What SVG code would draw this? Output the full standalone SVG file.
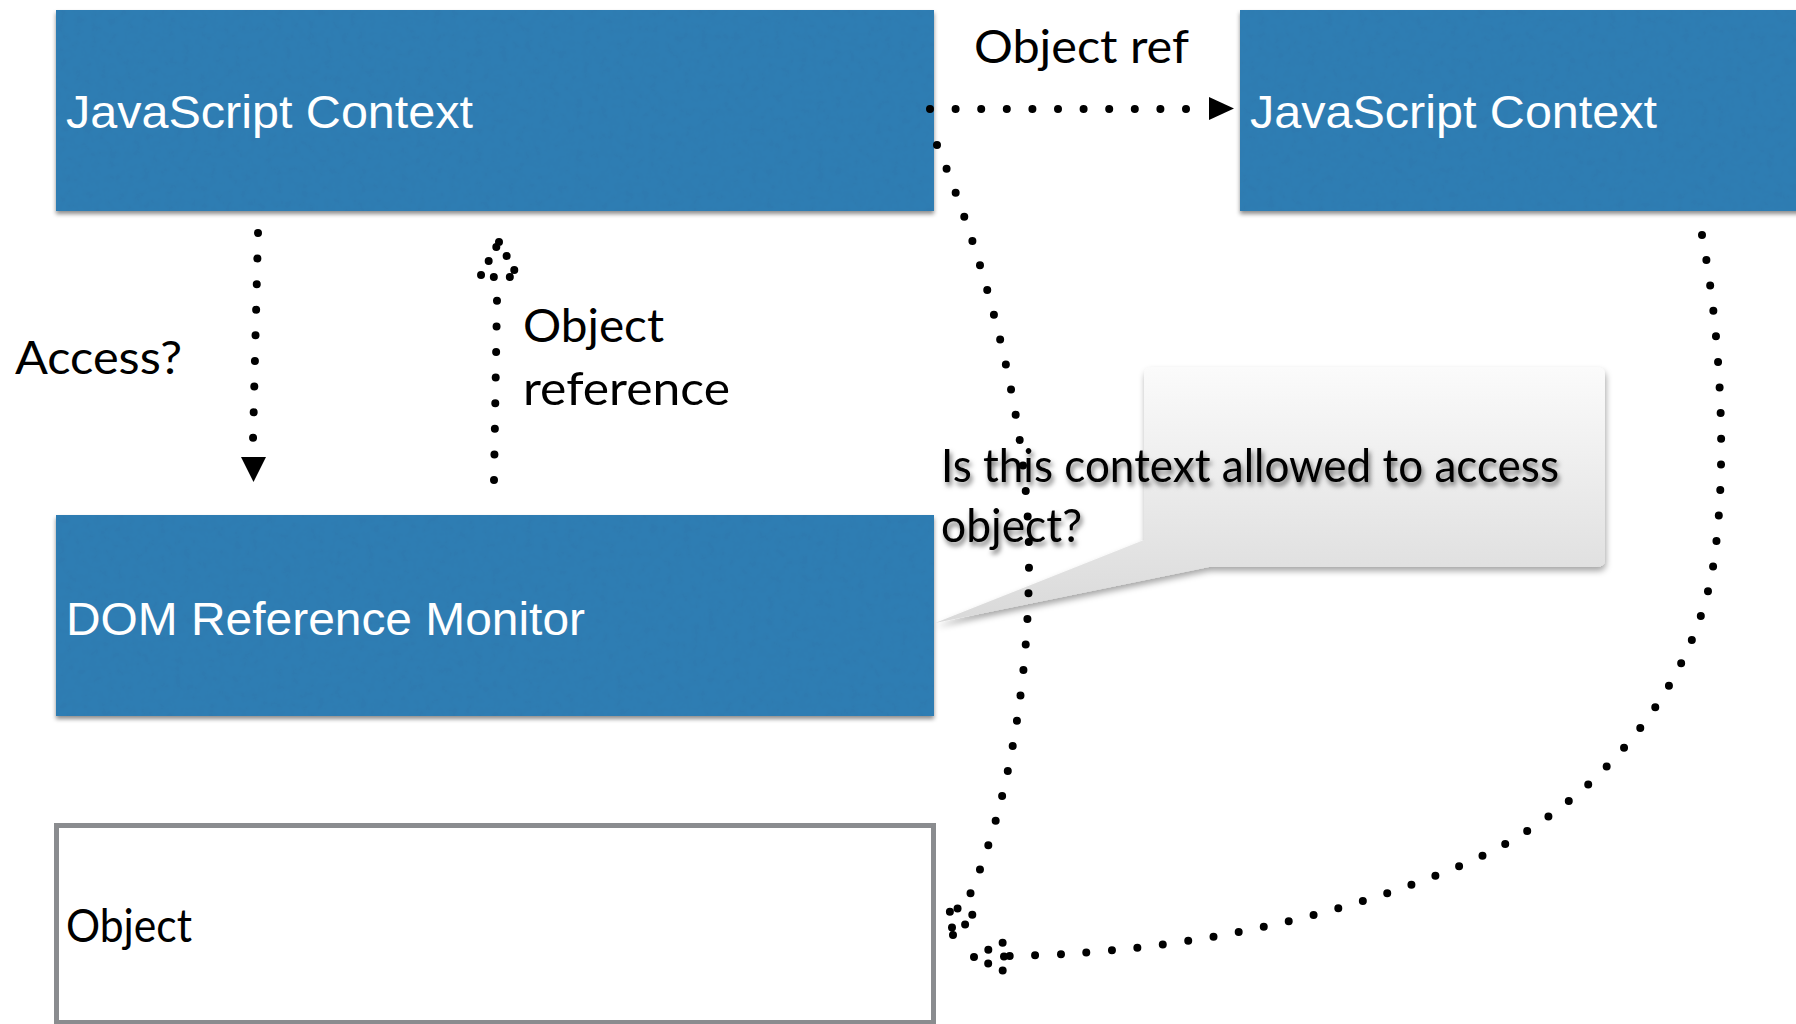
<svg xmlns="http://www.w3.org/2000/svg" width="1796" height="1024" viewBox="0 0 1796 1024">
  <defs>
    <style>
      .box { fill: #2f7db3; }
      .boxtext { font-family: "Liberation Sans", Arial, sans-serif; font-size: 46px; fill: #ffffff; }
      .label { font-family: Lato, "Open Sans", sans-serif; font-size: 47px; fill: #000000; }
      .dots { fill: none; stroke: #000; stroke-width: 8; stroke-linecap: round; stroke-dasharray: 0 25.6; }
      .headdots { fill: none; stroke: #000; stroke-width: 8; stroke-linecap: round; stroke-linejoin: round; stroke-dasharray: 0 16; }
      .solidhead { fill: #000; stroke: none; }
    </style>
    <!-- fine paper grain for the blue cards -->
    <filter id="paper" x="-2%" y="-5%" width="104%" height="115%">
      <feTurbulence type="fractalNoise" baseFrequency="0.12" numOctaves="3" seed="4" result="noise"/>
      <feColorMatrix in="noise" type="matrix" values="0 0 0 0 0  0 0 0 0 0  0 0 0 0 0  0 0 0 0.8 -0.3" result="grain"/>
      <feComposite in="grain" in2="SourceGraphic" operator="in" result="grainIn"/>
      <feComponentTransfer in="grainIn" result="grainSoft">
        <feFuncA type="linear" slope="0.12"/>
      </feComponentTransfer>
      <feDropShadow in="SourceGraphic" dx="0" dy="3" stdDeviation="2" flood-color="#000" flood-opacity="0.45" result="shadowed"/>
      <feMerge>
        <feMergeNode in="shadowed"/>
        <feMergeNode in="grainSoft"/>
      </feMerge>
    </filter>
    <filter id="bubbleShadow" x="-10%" y="-10%" width="125%" height="130%">
      <feDropShadow dx="1" dy="4" stdDeviation="3" flood-color="#000" flood-opacity="0.35"/>
    </filter>
    <filter id="textShadow" x="-5%" y="-20%" width="110%" height="150%">
      <feDropShadow dx="2" dy="4" stdDeviation="2.5" flood-color="#000" flood-opacity="0.55"/>
    </filter>
    <linearGradient id="bubbleFill" x1="0" y1="0" x2="0" y2="1">
      <stop offset="0" stop-color="#fbfbfb"/>
      <stop offset="1" stop-color="#d9d9d9"/>
    </linearGradient>
  </defs>

  <rect width="1796" height="1024" fill="#ffffff"/>

  <!-- nodes -->
  <g id="js-context-left">
    <rect class="box" x="56" y="10" width="878" height="201" filter="url(#paper)"/>
    <text class="boxtext" x="66" y="128" textLength="407" lengthAdjust="spacingAndGlyphs">JavaScript Context</text>
  </g>

  <g id="js-context-right">
    <rect class="box" x="1240" y="10" width="566" height="201" filter="url(#paper)"/>
    <text class="boxtext" x="1250" y="128" textLength="407" lengthAdjust="spacingAndGlyphs">JavaScript Context</text>
  </g>

  <g id="dom-reference-monitor">
    <rect class="box" x="56" y="515" width="878" height="201" filter="url(#paper)"/>
    <text class="boxtext" x="66" y="635" textLength="519" lengthAdjust="spacingAndGlyphs">DOM Reference Monitor</text>
  </g>

  <g id="object">
    <rect x="56.5" y="825.5" width="877" height="197" fill="#ffffff" stroke="#8a8c8f" stroke-width="5"/>
    <text class="label" x="66" y="942" font-size="40" textLength="126" lengthAdjust="spacingAndGlyphs">Object</text>
  </g>

  <g id="callout">
    <path d="M1152,367 H1597 Q1605,367 1605,375 V559 Q1605,567 1597,567 H1209 L935,623 L1144,540 V375 Q1144,367 1152,367 Z" fill="url(#bubbleFill)" filter="url(#bubbleShadow)"/>
  </g>

  <!-- connectors -->
  <g id="connectors">
    <!-- Object ref: left context to right context -->
    <path class="dots" d="M930,109 H1200"/>
    <polygon class="solidhead" points="1209,97 1234,108.5 1209,120"/>

    <!-- Access? : left context down to monitor -->
    <path class="dots" d="M258,233 L253,440"/>
    <polygon class="solidhead" points="241,457 266,457 253.5,482"/>

    <!-- Object reference: monitor up to left context -->
    <path class="dots" d="M494,480 L497,300"/>
    <path class="headdots" d="M499,242 L518,277 L480,277 Z"/>

    <!-- left context to object -->
    <path class="dots" d="M937,145 C985,260 1029,420 1029,560 C1029,700 1002,830 962,912"/>
    <path class="headdots" d="M953,935 L975,916 L949,905 Z"/>

    <!-- right context to object -->
    <path class="dots" d="M1702,235 C1722,340 1728,480 1712,573 C1690,690 1600,800 1480,857 C1330,925 1150,955 1004,956"/>
    <path class="headdots" d="M974,957 L1004,942 L1004,971 Z"/>
  </g>

  <!-- labels -->
  <g id="labels">
    <text class="label" x="974" y="63" textLength="215" lengthAdjust="spacingAndGlyphs">Object ref</text>
    <text class="label" x="15" y="374" textLength="167" lengthAdjust="spacingAndGlyphs">Access?</text>
    <text class="label" x="523" y="342" textLength="141" lengthAdjust="spacingAndGlyphs">Object</text>
    <text class="label" x="523" y="405" textLength="207" lengthAdjust="spacingAndGlyphs">reference</text>
    <g filter="url(#textShadow)">
      <text class="label" x="941" y="482" font-size="41" textLength="618" lengthAdjust="spacingAndGlyphs">Is this context allowed to access</text>
      <text class="label" x="941" y="542" font-size="41" textLength="141" lengthAdjust="spacingAndGlyphs">object?</text>
    </g>
  </g>
</svg>
